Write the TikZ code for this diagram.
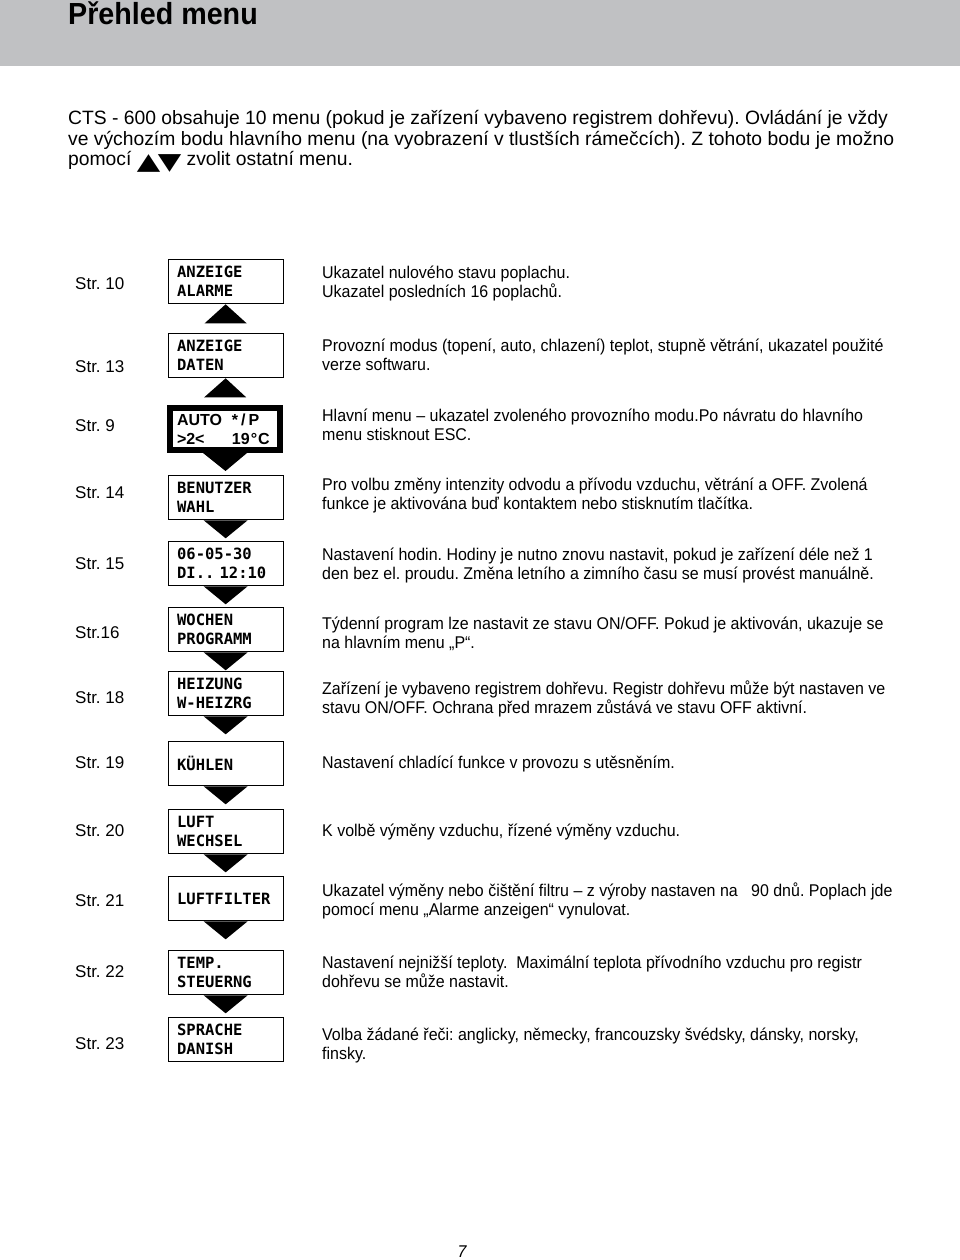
\documentclass[tikz,border=0pt]{standalone}
\usepackage{graphicx}
\usepackage{fontspec}
\setmainfont{Liberation Sans}[FakeStretch=0.94]
\setmonofont{DejaVu Sans Mono}
\newfontfamily\plainfont{Liberation Sans}
\newfontfamily\symfont{DejaVu Sans}
\usetikzlibrary{calc}
\definecolor{headgray}{RGB}{192,193,195}
\newcommand{\updownkeys}{\smash{\raisebox{-4pt}{\symfont\fontsize{30.5}{30}\selectfont\scalebox{1}[0.76]{▲}\kern-2.5pt\scalebox{1}[0.76]{▼}}}}
\frenchspacing

\begin{document}
\begin{tikzpicture}[x=1pt, y=-1pt,
    menu/.style = {draw, line width=1.3pt, anchor=north west, minimum width=115pt, minimum height=44pt, text width=97pt, inner xsep=9pt, align=left, font=\ttfamily\bfseries\fontsize{15.5}{19}\selectfont},
    mainmenu/.style = {menu, line width=6pt, minimum width=110pt, minimum height=42pt, text width=96pt, inner xsep=7pt, font=\plainfont\bfseries\fontsize{16}{19}\selectfont},
    strlabel/.style = {anchor=base west, inner sep=0pt, font=\plainfont\fontsize{17}{19.5}\selectfont},
    note/.style = {anchor=base west, inner sep=0pt, align=left, font=\fontsize{17}{19.5}\selectfont}]
    \useasboundingbox (0,0) rectangle (960,1260);

    % header
    \fill[headgray] (0,0) rectangle (960,66);
    \node[anchor=base west, inner sep=0pt, font=\bfseries\fontsize{30.5}{32}\selectfont] (title) at (68,25) {Přehled menu};
    \node[note, font=\plainfont\fontsize{19.3}{20.5}\selectfont] (intro) at (68,166) {CTS - 600 obsahuje 10 menu (pokud je zařízení vybaveno registrem dohřevu). Ovládání je vždy\\ve výchozím bodu hlavního menu (na vyobrazení v tlustších rámečcích). Z tohoto bodu je možno\\pomocí \updownkeys\ zvolit ostatní menu.};

    % menu boxes
    \node[menu] (b10) at (167.5,259) {ANZEIGE\\ALARME};
    \node[menu] (b13) at (167.5,333) {ANZEIGE\\DATEN};
    \node[mainmenu] (b9) at (167,405) {\makebox[55pt][l]{AUTO}*\kern3pt/\kern3pt P\\\makebox[55pt][l]{>2<}19\kern1pt°\kern1pt C};
    \node[menu] (b14) at (167.5,475) {BENUTZER\\WAHL};
    \node[menu] (b15) at (167.5,541) {06-05-30\\DI..\ 12:10};
    \node[menu] (b16) at (167.5,607) {WOCHEN\\PROGRAMM};
    \node[menu] (b18) at (167.5,671) {HEIZUNG\\W-HEIZRG};
    \node[menu] (b19) at (167.5,741) {KÜHLEN};
    \node[menu] (b20) at (167.5,809) {LUFT\\WECHSEL};
    \node[menu] (b21) at (167.5,876) {LUFTFILTER};
    \node[menu] (b22) at (167.5,950) {TEMP.\\STEUERNG};
    \node[menu] (b23) at (167.5,1017) {SPRACHE\\DANISH};

    % up arrows
    \foreach \a/\b in {b10/b13, b13/b9} {
        \path ($(\a.south)!19pt!(\b.north)$) coordinate (foot);
        \fill ([xshift=-21pt]foot) -- ([xshift=21pt]foot) -- (\a.south) -- cycle;
    }
    % down arrows
    \foreach \a/\b in {b9/b14, b14/b15, b15/b16, b16/b18, b18/b19, b19/b20, b20/b21, b21/b22, b22/b23} {
        \path ($(\a.south)!18pt!(\b.north)$) coordinate (tip);
        \fill ([xshift=-22pt]\a.south) -- ([xshift=22pt]\a.south) -- (tip) -- cycle;
    }

    % page references
    \node[strlabel] (s10) at (75,289) {Str. 10};
    \node[strlabel] (s13) at (75,372) {Str. 13};
    \node[strlabel] (s9) at (75,431) {Str. 9};
    \node[strlabel] (s14) at (75,498) {Str. 14};
    \node[strlabel] (s15) at (75,569) {Str. 15};
    \node[strlabel] (s16) at (75,638) {Str.16};
    \node[strlabel] (s18) at (75,703) {Str. 18};
    \node[strlabel] (s19) at (75,768) {Str. 19};
    \node[strlabel] (s20) at (75,836) {Str. 20};
    \node[strlabel] (s21) at (75,906) {Str. 21};
    \node[strlabel] (s22) at (75,977) {Str. 22};
    \node[strlabel] (s23) at (75,1049) {Str. 23};

    % descriptions (base = last line)
    \node[note] (d10) at (322,297.5) {Ukazatel nulového stavu poplachu.\\Ukazatel posledních 16 poplachů.};
    \node[note] (d13) at (322,370.5) {Provozní modus (topení, auto, chlazení) teplot, stupně větrání, ukazatel použité\\verze softwaru.};
    \node[note] (d9) at (322,440.5) {Hlavní menu – ukazatel zvoleného provozního modu.Po návratu do hlavního\\menu stisknout ESC.};
    \node[note] (d14) at (322,509.5) {Pro volbu změny intenzity odvodu a přívodu vzduchu, větrání a OFF. Zvolená\\funkce je aktivována buď kontaktem nebo stisknutím tlačítka.};
    \node[note] (d15) at (322,579.5) {Nastavení hodin. Hodiny je nutno znovu nastavit, pokud je zařízení déle než 1\\den bez el. proudu. Změna letního a zimního času se musí provést manuálně.};
    \node[note] (d16) at (322,648.5) {Týdenní program lze nastavit ze stavu ON/OFF. Pokud je aktivován, ukazuje se\\na hlavním menu „P“.};
    \node[note] (d18) at (322,713.5) {Zařízení je vybaveno registrem dohřevu. Registr dohřevu může být nastaven ve\\stavu ON/OFF. Ochrana před mrazem zůstává ve stavu OFF aktivní.};
    \node[note] (d19) at (322,768) {Nastavení chladící funkce v provozu s utěsněním.};
    \node[note] (d20) at (322,836) {K volbě výměny vzduchu, řízené výměny vzduchu.};
    \node[note] (d21) at (322,915.5) {Ukazatel výměny nebo čištění filtru – z výroby nastaven na\ \ \ 90 dnů. Poplach jde\\pomocí menu „Alarme anzeigen“ vynulovat.};
    \node[note] (d22) at (322,987.5) {Nastavení nejnižší teploty.\ \ Maximální teplota přívodního vzduchu pro registr\\dohřevu se může nastavit.};
    \node[note] (d23) at (322,1059.5) {Volba žádané řeči: anglicky, německy, francouzsky švédsky, dánsky, norsky,\\finsky.};

    \node[anchor=base, inner sep=0pt, font=\itshape\fontsize{17}{19}\selectfont] (page) at (462,1257) {7};
\end{tikzpicture}
\end{document}
